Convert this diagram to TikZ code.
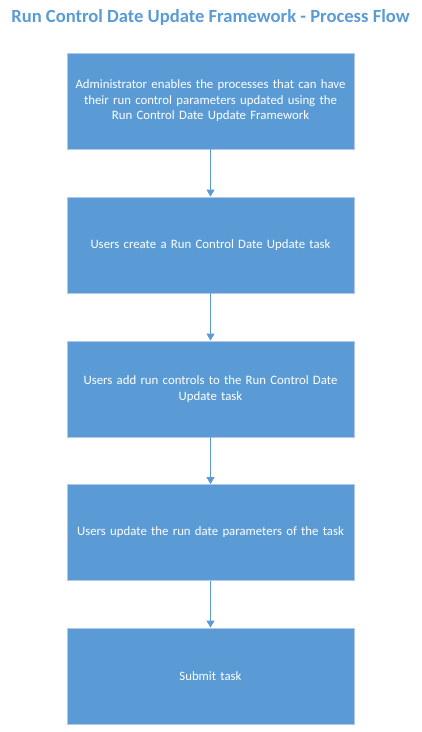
\documentclass[tikz,border=0pt]{standalone}
\usepackage{fontspec}
\setmainfont{Carlito}
\usetikzlibrary{arrows.meta}

\definecolor{boxblue}{HTML}{5B9BD5}
\definecolor{boxline}{HTML}{B4C7E7}

\begin{document}
\begin{tikzpicture}[x=1pt,y=1pt]
				\tikzstyle{step box}=[rectangle, fill=boxblue, draw=boxline, line width=0.8pt, minimum width=287pt, minimum height=96pt, text width=284pt, align=center, text=white, font=\fontsize{12.8}{15.5}\selectfont, inner sep=0pt]
				\tikzstyle{flow}=[draw=boxblue, line width=0.9pt, -{Triangle[width=8pt,length=7pt]}]
				\useasboundingbox (0,0) rectangle (421,-732);
				\node [text=boxblue, font=\fontsize{18.6}{22}\selectfont\bfseries] (title) at (210.5,-17) {Run Control Date Update Framework - Process Flow};
				\node [step box] (enable) at (210.5,-101) {Administrator enables the processes that can have\\ their run control parameters updated using the\\ Run Control Date Update Framework};
				\node [step box] (create) at (210.5,-245) {Users create a Run Control Date Update task};
				\node [step box] (add) at (210.5,-389) {Users add run controls to the Run Control Date\\ Update task};
				\node [step box] (update) at (210.5,-532.5) {Users update the run date parameters of the task};
				\node [step box] (submit) at (210.5,-676) {Submit task};
				\draw [flow] (enable) -- (create);
				\draw [flow] (create) -- (add);
				\draw [flow] (add) -- (update);
				\draw [flow] (update) -- (submit);
\end{tikzpicture}
\end{document}
